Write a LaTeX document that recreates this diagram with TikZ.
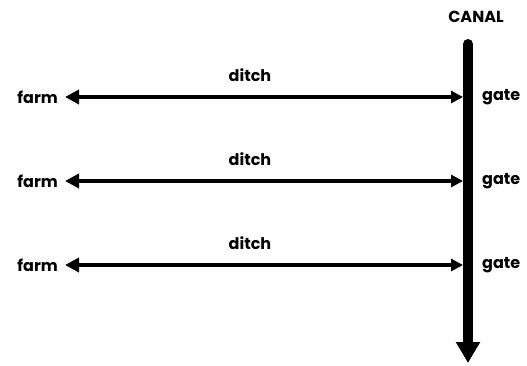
\documentclass[tikz,border=0pt]{standalone}
\usepackage{fontspec}
\setmainfont{Poppins}
\usetikzlibrary{arrows.meta}
\begin{document}
\begin{tikzpicture}[x=1pt,y=-1pt,
  lbl/.style={font=\fontsize{16}{18}\selectfont\bfseries, inner sep=0pt},
  ditcharrow/.style={line width=4.5pt, {Triangle[length=14pt,width=14pt]}-{Triangle[length=12pt,width=12pt]}},
  canalarrow/.style={line width=10pt, line cap=round, -{Triangle[length=21pt,width=23pt,line cap=butt]}}]
\useasboundingbox (0,0) rectangle (527,365);
\coordinate (ctop) at (468,44);
\coordinate (cbot) at (468,363);
\draw[canalarrow] (ctop) -- (cbot);
\node[lbl, anchor=center] (canal) at (476,17) {CANAL};
\foreach \i/\y in {1/97,2/181,3/265}{
  \node[lbl, anchor=east] (farm\i) at (58,\y) {farm};
  \node[lbl, anchor=west] (gate\i) at (482,\y) {gate};
  \coordinate (edge\i) at (463,\y);
  \draw[ditcharrow] (farm\i.east) ++(7,0) coordinate (fe\i) -- (edge\i);
  \node[lbl] (ditch\i) at (250,\y-22) {ditch};
}
\end{tikzpicture}
\end{document}
